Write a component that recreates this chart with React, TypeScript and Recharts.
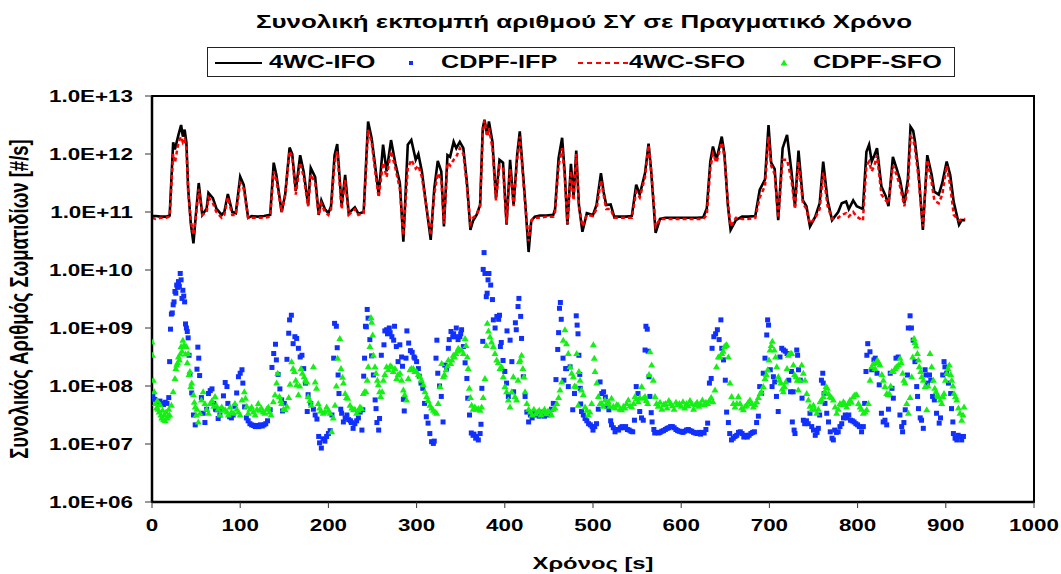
import { ComposedChart, Line, Scatter, XAxis, YAxis, Label, ReferenceArea } from 'recharts'

const FONT = '"Liberation Sans", Arial, sans-serif'
// all lettering is drawn wide, as in the exported chart
const STRETCH = 1.4

const X_TICKS = [0, 100, 200, 300, 400, 500, 600, 700, 800, 900, 1000]
const Y_TICKS = [1e6, 1e7, 1e8, 1e9, 1e10, 1e11, 1e12, 1e13]

// 4WC runs: time knots [s] and log10 of the particle rate [#/s]
const LINE_T = [
  0, 4, 10, 16, 20, 24, 26, 30, 33, 35, 37, 39, 41, 44, 47, 50, 53, 57, 62, 64, 69, 73, 79, 82, 86, 91, 95, 100, 104,
  109, 113, 120, 127, 134, 138, 141, 147, 151, 156, 159, 163, 168, 172, 177, 180, 185, 189, 192, 196, 200, 203, 207,
  210, 215, 219, 223, 230, 234, 240, 245, 249, 253, 257, 262, 266, 271, 276, 281, 285, 290, 294, 299, 302, 306, 311,
  316, 320, 324, 328, 331, 335, 338, 342, 345, 349, 353, 357, 361, 364, 368, 372, 375, 377, 380, 382, 386, 390, 394,
  398, 402, 406, 410, 414, 417, 423, 427, 430, 434, 440, 447, 455, 457, 461, 465, 468, 471, 475, 478, 481, 484, 488,
  493, 500, 504, 509, 512, 515, 520, 524, 530, 537, 544, 549, 553, 559, 563, 566, 571, 576, 582, 590, 600, 610, 618,
  625, 629, 633, 636, 640, 646, 649, 653, 656, 662, 669, 676, 684, 689, 695, 699, 702, 706, 710, 715, 720, 725, 729,
  733, 738, 742, 746, 752, 757, 761, 766, 771, 778, 782, 787, 790, 795, 799, 806, 810, 813, 816, 819, 822, 827, 832,
  835, 840, 844, 848, 853, 857, 860, 863, 865, 869, 874, 879, 884, 887, 892, 896, 901, 905, 909, 915, 918, 922,
]
const IFO_4WC = [
  10.93, 10.93, 10.92, 10.92, 10.94, 12.2, 12.08, 12.33, 12.5, 12.3, 12.42, 12.2, 11.4, 10.8, 10.46, 11.0, 11.5, 10.95,
  11.06, 11.33, 11.24, 11.06, 10.95, 11.0, 11.31, 11.0, 10.98, 11.61, 11.47, 10.9, 10.93, 10.92, 10.93, 10.95, 11.85,
  11.64, 11.0, 11.3, 12.11, 12.0, 11.36, 11.98, 11.69, 11.12, 11.76, 11.6, 10.95, 11.2, 11.05, 10.98, 11.1, 11.98,
  12.17, 11.1, 11.64, 10.98, 11.08, 10.97, 11.0, 12.56, 12.27, 11.8, 11.3, 12.16, 11.7, 12.24, 11.83, 11.5, 10.49,
  12.16, 12.24, 11.9, 12.0, 11.7, 11.1, 10.52, 11.4, 11.88, 11.7, 10.75, 11.98, 11.95, 12.21, 12.1, 12.21, 12.1, 11.52,
  10.69, 10.85, 10.95, 11.12, 12.44, 12.59, 12.33, 12.56, 12.21, 11.24, 11.9, 11.85, 10.78, 11.9, 11.12, 11.98, 12.39,
  11.2, 10.31, 10.85, 10.92, 10.94, 10.94, 10.95, 11.05, 11.93, 12.28, 11.66, 10.78, 11.83, 11.25, 12.06, 11.12,
  10.66, 10.98, 10.95, 11.12, 11.67, 11.35, 11.12, 11.13, 10.92, 10.92, 10.92, 10.93, 11.47, 11.3, 11.67, 12.18, 11.7,
  10.64, 10.88, 10.9, 10.9, 10.9, 10.9, 10.9, 10.91, 11.06, 11.87, 12.13, 11.9, 12.3, 12.0, 11.1, 10.69, 10.86, 10.92,
  10.92, 10.93, 11.38, 11.56, 12.5, 11.85, 11.74, 10.86, 12.1, 12.33, 11.7, 11.1, 12.06, 11.2, 11.1, 10.75, 10.92,
  11.15, 11.87, 11.2, 10.86, 11.0, 11.15, 11.18, 11.05, 11.2, 11.1, 11.05, 12.04, 12.16, 11.87, 11.98, 12.1, 11.44,
  11.27, 11.1, 11.95, 11.76, 11.56, 11.15, 11.56, 12.47, 12.4, 12.22, 11.7, 10.69, 11.98, 11.64, 11.35, 11.3, 11.5,
  11.87, 11.64, 11.17, 10.78, 10.86, 10.86,
]
const SFO_4WC = [
  10.9, 10.88, 10.9, 10.9, 10.92, 12.0, 11.85, 12.2, 12.3, 12.2, 12.25, 12.1, 11.35, 10.85, 10.6, 10.95, 11.4, 10.95,
  11.0, 11.25, 11.15, 11.0, 10.9, 10.95, 11.25, 10.95, 10.95, 11.5, 11.4, 10.9, 10.9, 10.9, 10.9, 10.92, 11.7, 11.55,
  11.0, 11.3, 12.05, 11.95, 11.3, 11.85, 11.6, 11.1, 11.65, 11.5, 10.95, 11.15, 11.0, 10.95, 11.05, 11.85, 12.05,
  11.05, 11.55, 10.95, 11.05, 10.95, 10.98, 12.42, 12.2, 11.7, 11.25, 11.85, 11.6, 12.05, 11.75, 11.4, 10.6, 11.75,
  11.9, 11.75, 11.8, 11.6, 11.1, 10.6, 11.3, 11.67, 11.55, 10.8, 11.85, 11.8, 11.9, 11.95, 12.1, 12.0, 11.45, 10.8,
  10.9, 10.95, 11.1, 12.35, 12.58, 12.3, 12.45, 12.1, 11.2, 11.8, 11.75, 10.8, 11.75, 11.1, 11.9, 12.3, 11.15, 10.5,
  10.85, 10.9, 10.9, 10.92, 10.92, 11.0, 11.8, 12.1, 11.6, 10.8, 11.7, 11.2, 12.0, 11.1, 10.75, 10.95, 10.93, 11.05,
  11.55, 11.3, 11.05, 11.05, 10.9, 10.9, 10.9, 10.9, 11.35, 11.25, 11.6, 12.15, 11.7, 10.75, 10.88, 10.88, 10.88,
  10.88, 10.88, 10.88, 10.88, 10.95, 11.75, 12.0, 11.85, 12.2, 11.95, 11.15, 10.75, 10.9, 10.88, 10.88, 10.9, 11.25,
  11.45, 12.3, 11.8, 11.65, 10.9, 11.9, 11.9, 11.55, 11.05, 11.87, 11.15, 11.05, 10.8, 10.9, 11.05, 11.68, 11.1, 10.88,
  10.9, 10.95, 10.98, 10.92, 11.0, 10.92, 10.85, 11.8, 11.87, 11.7, 11.8, 11.98, 11.3, 11.2, 11.15, 11.8, 11.65,
  11.45, 11.1, 11.4, 12.3, 12.25, 12.1, 11.6, 10.75, 11.9, 11.5, 11.2, 11.15, 11.3, 11.8, 11.45, 10.95, 10.85, 10.88,
  10.88,
]

// CDPF runs: [time s, log10 #/s]
const CDPF_IFP: [number, number][] = [
  [0, 7.87], [1, 7.82], [3, 7.77], [5, 7.72], [7, 7.7], [9, 7.74], [11, 7.7], [13, 7.68], [15, 7.72], [17, 7.7],
  [19, 7.8], [20, 8.42], [21, 8.98], [22, 9.24], [23, 9.26], [24, 9.4], [25, 9.45], [26, 9.63], [27, 9.6], [28, 9.74],
  [29, 9.7], [30, 9.8], [31, 9.72], [32, 9.94], [33, 9.83], [34, 9.51], [35, 9.65], [36, 9.55], [37, 9.45],
  [38, 9.07], [39, 9.0], [40, 8.94], [41, 8.83], [42, 8.53], [43, 8.2], [45, 7.88], [47, 7.5], [49, 7.33], [51, 8.29],
  [52, 8.67], [53, 8.48], [54, 8.18], [56, 7.8], [58, 7.53], [60, 7.37], [62, 7.6], [64, 7.87], [66, 7.92],
  [68, 7.95], [70, 7.7], [72, 7.6], [73, 7.59], [75, 7.44], [77, 7.5], [79, 7.6], [81, 7.83], [83, 8.06], [85, 7.99],
  [86, 7.7], [88, 7.47], [90, 7.45], [92, 7.5], [94, 7.65], [96, 7.88], [98, 8.16], [100, 8.22], [102, 8.28],
  [103, 8.05], [105, 7.64], [107, 7.45], [109, 7.4], [111, 7.35], [113, 7.33], [115, 7.32], [117, 7.3], [119, 7.32],
  [121, 7.3], [123, 7.33], [125, 7.31], [127, 7.33], [129, 7.35], [131, 7.4], [134, 7.59], [136, 8.32], [138, 8.56],
  [140, 8.72], [141, 8.45], [143, 8.2], [145, 7.95], [147, 7.76], [148, 7.57], [150, 7.7], [153, 8.46], [155, 8.91],
  [156, 9.14], [158, 9.22], [160, 8.73], [162, 8.85], [164, 8.82], [166, 8.65], [168, 8.5], [170, 8.53], [172, 8.3],
  [174, 8.05], [176, 7.56], [177, 7.85], [180, 7.7], [183, 7.6], [185, 7.5], [187, 7.43], [189, 7.13], [190, 7.02],
  [192, 6.93], [194, 7.09], [196, 7.05], [198, 7.13], [200, 7.18], [202, 7.23], [204, 7.5], [206, 8.48], [207, 9.08],
  [209, 9.03], [210, 8.66], [211, 8.19], [212, 7.87], [214, 7.6], [215, 7.53], [217, 7.38], [219, 7.45], [221, 7.5],
  [223, 7.42], [225, 7.4], [226, 7.37], [228, 7.27], [230, 7.35], [232, 7.4], [234, 7.45], [236, 7.55], [238, 7.24],
  [239, 7.59], [240, 8.17], [241, 8.48], [242, 9.03], [243, 9.02], [244, 9.32], [245, 9.17], [247, 8.8], [249, 8.52],
  [251, 8.19], [253, 7.76], [254, 7.61], [255, 7.37], [257, 7.24], [258, 7.44], [260, 8.53], [263, 8.71],
  [264, 8.95], [266, 8.97], [267, 8.9], [269, 9.0], [270, 8.92], [272, 8.85], [274, 8.79], [275, 9.03], [277, 8.68],
  [279, 8.42], [281, 8.71], [283, 8.5], [284, 8.34], [285, 7.77], [286, 7.57], [288, 8.48], [289, 8.95], [291, 8.74],
  [293, 8.61], [295, 8.58], [297, 8.5], [298, 8.48], [300, 8.42], [302, 8.3], [303, 8.17], [305, 8.05], [307, 7.96],
  [309, 7.7], [311, 7.47], [313, 7.36], [315, 7.18], [317, 7.04], [319, 7.01], [320, 7.05], [322, 8.48], [323, 8.79],
  [324, 8.22], [326, 8.0], [328, 7.82], [330, 7.38], [332, 8.36], [334, 8.3], [336, 8.65], [337, 8.8], [339, 8.94],
  [341, 8.85], [342, 8.9], [344, 8.85], [345, 9.0], [347, 8.8], [349, 8.85], [350, 8.9], [351, 8.97], [353, 8.68],
  [355, 8.4], [357, 8.13], [358, 7.79], [360, 7.5], [362, 7.19], [364, 7.15], [365, 7.17], [367, 7.1], [368, 7.13],
  [370, 7.07], [372, 7.18], [373, 7.34], [374, 7.96], [375, 8.77], [375.5, 10.01], [376.5, 10.3], [377.5, 9.94],
  [379, 9.54], [380, 9.6], [381, 9.83], [382, 9.94], [384, 9.74], [386, 9.49], [387, 9.14], [389, 9.0], [391, 9.2],
  [393, 9.15], [394, 9.22], [395, 8.68], [396, 8.75], [398, 8.44], [400, 8.25], [402, 8.05], [402.5, 8.95],
  [404, 7.82], [406, 8.79], [408, 8.42], [410, 7.9], [412, 9.09], [413, 8.97], [415, 9.37], [416, 9.51], [418, 9.2],
  [419, 8.82], [421, 8.16], [423, 7.82], [425, 7.55], [427, 7.38], [429, 7.5], [431, 7.45], [433, 7.55], [435, 7.5],
  [437, 7.52], [439, 7.48], [441, 7.55], [443, 7.5], [445, 7.48], [447, 7.52], [449, 7.5], [451, 7.55], [453, 7.6],
  [455, 7.7], [458, 8.11], [460, 8.63], [461, 8.92], [462, 9.34], [463, 9.44], [464, 9.15], [466, 8.48], [467, 8.1],
  [469, 8.3], [470, 8.3], [472, 7.99], [474, 8.33], [477, 7.59], [479, 7.87], [481, 9.21], [482, 9.05], [483, 8.9],
  [484, 8.53], [485, 8.2], [485.5, 7.96], [486, 7.69], [487, 7.56], [489, 7.5], [491, 7.44], [493, 7.4], [495, 7.35],
  [497, 7.33], [499, 7.3], [500, 7.24], [502, 7.3], [504, 7.35], [506, 7.6], [508, 8.07], [510, 7.87], [512, 7.9],
  [514, 7.81], [516, 7.65], [518, 7.59], [520, 7.4], [521, 7.33], [523, 7.28], [525, 7.21], [527, 7.25], [529, 7.24],
  [531, 7.28], [533, 7.3], [535, 7.28], [537, 7.3], [539, 7.25], [541, 7.24], [543, 7.22], [545, 7.21], [547, 7.41],
  [549, 7.99], [551, 7.87], [553, 7.56], [555, 7.45], [557, 7.41], [559, 8.62], [560, 9.03], [561.5, 8.98],
  [562.5, 8.6], [563.5, 8.16], [564.5, 7.82], [566, 7.54], [567, 7.38], [569, 7.25], [570, 7.19], [572, 7.2],
  [574, 7.19], [576, 7.2], [578, 7.22], [580, 7.23], [582, 7.25], [584, 7.27], [586, 7.28], [588, 7.3], [590, 7.3],
  [592, 7.28], [594, 7.25], [596, 7.23], [598, 7.22], [600, 7.21], [602, 7.2], [604, 7.22], [606, 7.24], [608, 7.25],
  [610, 7.23], [612, 7.22], [614, 7.2], [616, 7.19], [618, 7.18], [620, 7.2], [622, 7.17], [624, 7.2], [626, 7.19],
  [628, 7.25], [630, 7.36], [632, 8.05], [634, 8.13], [635, 8.65], [637, 8.85], [639, 8.9], [641, 8.97], [643, 8.8],
  [645, 9.14], [646, 8.65], [648, 8.45], [650, 8.1], [651.5, 7.55], [653.5, 7.37], [655, 7.18], [657, 7.07],
  [659, 7.1], [661, 7.13], [663, 7.15], [665, 7.2], [667, 7.21], [669, 7.18], [671, 7.12], [673, 7.15], [675, 7.12],
  [677, 7.15], [679, 7.18], [681, 7.2], [683, 7.21], [685.5, 7.37], [687.5, 7.48], [689, 7.99], [691, 7.87],
  [693, 8.22], [695, 8.48], [697, 8.88], [698, 9.14], [699, 9.05], [701, 8.28], [703, 7.99], [704.5, 8.16],
  [706, 8.07], [708, 7.82], [710, 7.56], [712, 8.5], [714, 8.65], [716, 8.62], [718, 8.6], [720, 8.56], [722, 8.1],
  [724, 7.9], [725, 8.25], [726, 7.38], [727, 7.9], [728, 7.24], [729, 7.18], [731, 8.62], [732, 8.53], [733, 8.28],
  [735, 8.1], [737, 7.79], [738.5, 7.41], [740, 7.35], [742, 7.4], [744, 7.35], [746, 7.53], [748, 7.3], [750, 7.24],
  [752, 7.15], [754, 7.2], [755.5, 7.27], [757, 7.5], [759, 8.1], [760.5, 8.22], [761, 8.05], [762, 7.87], [763, 7.7],
  [765, 7.53], [767, 7.38], [769, 7.21], [771, 7.1], [772.5, 7.07], [774, 7.24], [776, 7.2], [778, 7.21], [780, 7.3],
  [782, 7.35], [784, 7.45], [786, 7.5], [788, 7.45], [790, 7.5], [792, 7.41], [794, 7.4], [796, 7.38], [798, 7.35],
  [800, 7.33], [802, 7.3], [804.5, 7.21], [806.5, 7.3], [808, 7.7], [809.5, 8.25], [810.5, 8.53], [811.5, 8.73],
  [814, 8.59], [816, 8.28], [818.5, 8.45], [820, 8.48], [822, 8.22], [824.5, 8.02], [827, 7.53], [829, 7.38],
  [831, 7.41], [833, 7.33], [835, 7.6], [837, 8.22], [839, 7.96], [840.5, 7.79], [843.5, 8.48], [846, 8.5], [848, 7.5],
  [850, 7.3], [851, 7.21], [852.5, 7.37], [854, 7.59], [856.5, 8.19], [857.5, 9.0], [859.5, 9.21], [861, 9.0],
  [863, 8.79], [865, 8.42], [867, 7.99], [868, 7.82], [869, 7.61], [871, 7.45], [872.5, 7.41], [874.5, 7.27],
  [876.5, 8.28], [877.5, 8.19], [879, 8.05], [881.5, 8.19], [883, 8.1], [885, 7.82], [887, 7.76], [889.5, 7.53],
  [892.5, 7.36], [894, 7.45], [896.5, 8.19], [898, 8.42], [899, 8.33], [901, 8.22], [903, 8.05], [905.5, 7.87],
  [906.5, 7.61], [908, 7.38], [908.6, 7.18], [910.5, 7.1], [912.5, 7.07], [914, 7.15], [916, 7.13], [918, 7.07],
  [920, 7.13],
]
const CDPF_SFO: [number, number][] = [
  [0, 8.76], [0.5, 8.53], [1.5, 8.1], [2.6, 7.9], [4, 7.7], [5, 7.62], [6, 7.75], [7, 7.6], [8, 7.55], [9, 7.68],
  [10, 7.5], [11, 7.45], [12, 7.58], [13, 7.42], [14, 7.5], [15, 7.4], [16, 7.55], [17, 7.45], [18, 7.48], [19, 7.6],
  [20, 7.5], [22, 7.67], [24, 7.9], [26, 8.13], [27, 8.3], [28, 8.36], [29, 8.4], [30, 8.5], [31, 8.45], [32, 8.55],
  [33, 8.68], [34, 8.6], [35, 8.79], [36, 8.7], [37, 8.7], [38, 8.55], [39, 8.68], [40, 8.4], [41, 8.56], [42, 8.2],
  [43, 8.25], [44, 7.99], [45, 8.05], [47, 7.85], [48, 7.72], [49, 7.64], [50, 7.5], [51, 7.6], [52.5, 7.38],
  [54.5, 7.53], [56, 7.76], [58, 7.9], [60, 7.7], [62, 7.6], [64, 7.53], [66, 7.7], [68, 7.75], [70, 7.65],
  [71.5, 7.82], [73, 7.67], [75, 7.6], [77, 7.5], [79, 7.64], [81, 7.58], [83, 7.59], [85, 7.55], [86.5, 7.5],
  [88.5, 7.64], [90, 7.55], [92, 7.53], [94, 7.7], [96, 7.6], [98, 7.55], [100, 7.5], [102, 7.76], [104.7, 7.9],
  [106, 7.79], [107.5, 7.65], [109, 7.53], [111, 7.6], [113, 7.64], [115, 7.55], [117, 7.5], [119, 7.6], [120.5, 7.7],
  [122, 7.58], [124, 7.62], [126, 7.55], [128, 7.53], [130, 7.6], [132, 7.64], [133.5, 7.55], [135, 7.5],
  [137.5, 7.73], [139.5, 7.85], [141.3, 8.05], [142.5, 8.22], [144.5, 7.82], [146, 7.75], [147, 7.7], [149, 7.6],
  [151, 7.59], [153, 7.65], [155, 7.8], [156.5, 8.03], [158.3, 8.42], [160, 8.3], [161.5, 8.25], [163, 8.1],
  [164, 8.02], [166, 7.85], [167.5, 8.0], [169, 8.3], [170.5, 8.22], [172.5, 8.16], [174, 8.1], [175.5, 8.07],
  [177, 7.82], [179, 7.75], [180.5, 7.67], [183, 8.33], [185, 8.07], [186.5, 7.96], [188.5, 7.7], [190, 7.62],
  [191.5, 7.57], [194, 7.53], [196, 7.55], [198, 7.64], [200, 7.58], [202, 7.53], [203.7, 7.21], [205.5, 7.45],
  [207.5, 7.67], [209, 8.0], [210.5, 8.48], [213, 8.82], [214.3, 8.3], [216, 8.15], [217, 8.05], [219, 7.87],
  [220.5, 7.8], [222, 7.79], [224.5, 7.67], [226.5, 7.62], [228.3, 7.59], [230, 7.6], [232, 7.53], [234, 7.58],
  [235.8, 7.64], [237.7, 7.61], [239.6, 7.87], [241, 7.9], [242.6, 7.9], [244, 8.1], [245.2, 8.33], [247, 8.68],
  [248.3, 9.18], [249, 9.1], [250.2, 8.88], [251, 8.53], [252.8, 8.33], [254, 8.22], [255.5, 8.1], [256.6, 8.02],
  [258, 7.9], [259.2, 7.82], [261, 7.9], [262.3, 8.1], [264, 8.2], [266, 8.33], [268, 8.28], [270, 8.35],
  [271.7, 8.33], [273.6, 8.25], [275.5, 8.3], [277.4, 8.13], [279, 8.2], [281.2, 8.22], [283, 8.1], [285, 7.93],
  [286.5, 7.85], [288.7, 7.76], [290.6, 8.13], [292.5, 8.28], [294, 8.3], [296.3, 8.3], [298, 8.25], [300, 8.25],
  [302, 8.2], [303.8, 8.16], [305.5, 8.1], [307.6, 8.02], [309.5, 7.9], [311.4, 7.82], [313, 7.75], [315.2, 7.67],
  [317, 7.62], [319, 7.58], [321, 7.55], [322.7, 7.53], [324.5, 7.7], [326.5, 7.99], [328.4, 8.39], [330.3, 8.16],
  [331.5, 8.2], [333.3, 8.28], [335, 8.35], [336, 8.45], [338.6, 8.39], [340, 8.45], [341.6, 8.53], [343, 8.5],
  [344.6, 8.56], [346, 8.6], [347.3, 8.65], [349, 8.62], [351, 8.62], [353, 8.56], [354.9, 8.82], [356, 8.7],
  [357.5, 8.5], [358.5, 8.3], [359.8, 7.96], [361, 7.8], [362.4, 7.67], [364, 7.6], [366, 7.64], [368, 7.6],
  [370, 7.61], [372, 7.58], [373.7, 7.64], [375.5, 7.8], [377.5, 8.13], [379, 8.7], [380.2, 9.08], [381.5, 8.95],
  [383.2, 8.85], [385, 8.76], [387, 8.68], [388.9, 8.56], [390.8, 8.45], [392.5, 8.4], [394.5, 8.3], [396.4, 8.33],
  [398.3, 8.16], [400.2, 7.99], [402, 7.9], [404, 7.76], [405.9, 7.64], [407.8, 7.9], [409.7, 8.16], [411.5, 7.82],
  [413.4, 7.76], [415, 8.1], [416.4, 8.42], [417.5, 8.45], [419, 8.53], [420.5, 8.3], [421.7, 8.16], [423, 7.9],
  [425, 7.7], [427, 7.6], [429, 7.55], [431, 7.5], [433, 7.6], [435, 7.52], [437, 7.55], [439, 7.58], [441, 7.5],
  [443, 7.55], [445, 7.6], [447, 7.52], [449, 7.57], [451, 7.55], [453, 7.5], [455, 7.6], [457, 7.62], [459, 7.7],
  [461, 7.8], [462.6, 7.93], [464.5, 8.07], [466.3, 8.79], [468.2, 8.97], [470, 8.73], [472, 8.56], [474, 8.33],
  [475.8, 8.22], [477.7, 8.16], [479, 8.0], [480.7, 7.99], [481.5, 8.56], [483.3, 7.67], [484, 8.25], [485.3, 8.1],
  [487, 7.93], [489, 7.85], [491, 7.64], [493, 7.58], [494.7, 7.5], [496.5, 7.55], [498.5, 7.7], [500.4, 8.71],
  [501.5, 8.48], [502.3, 8.25], [504.2, 8.05], [506, 7.82], [508, 7.7], [509.8, 7.7], [511.5, 7.65], [513.6, 7.76],
  [515.5, 7.7], [517.4, 7.73], [519, 7.65], [521, 7.79], [523, 7.65], [525, 7.62], [527, 7.68], [528.7, 7.67],
  [530.5, 7.6], [532.5, 7.59], [534.5, 7.65], [536.3, 7.62], [538, 7.7], [540, 7.76], [542, 7.66], [544, 7.64],
  [546, 7.7], [547.6, 7.82], [549.5, 7.78], [551.4, 7.73], [553, 7.8], [555.2, 7.99], [557, 7.79], [559, 7.82],
  [560.5, 7.75], [562, 7.7], [563.5, 8.2], [564.6, 8.59], [566.5, 8.36], [568.4, 8.1], [570.3, 7.82], [572, 7.7],
  [574, 7.65], [576, 7.72], [578, 7.6], [580, 7.68], [582, 7.7], [584, 7.62], [586, 7.75], [588, 7.7], [590, 7.66],
  [592, 7.6], [594, 7.72], [596, 7.68], [598, 7.7], [600, 7.65], [602, 7.73], [604, 7.62], [606, 7.7], [608, 7.66],
  [610, 7.75], [612, 7.7], [614, 7.6], [616, 7.68], [618, 7.72], [620, 7.65], [622, 7.7], [624, 7.76], [626, 7.68],
  [628, 7.72], [630, 7.7], [632, 7.75], [634, 7.8], [636, 7.73], [638.3, 7.93], [640, 8.33], [642, 8.5], [644, 8.5],
  [646, 8.56], [647.5, 8.6], [649, 8.68], [650.5, 8.7], [651.6, 8.71], [653.5, 8.5], [655.3, 8.05], [657.2, 7.82],
  [659, 7.7], [661, 7.64], [663, 7.7], [664.8, 7.82], [666.7, 7.7], [668.5, 7.62], [670.5, 7.59], [672.5, 7.65],
  [674.2, 7.67], [676, 7.72], [678, 7.76], [680, 7.7], [681.8, 7.64], [683.5, 7.68], [685.6, 7.73], [687.5, 7.8],
  [689.4, 7.87], [691, 7.9], [693, 7.99], [695, 8.13], [696.5, 8.2], [698, 8.28], [699.5, 8.45], [700.7, 8.62],
  [702, 8.7], [703.3, 8.77], [705.6, 8.62], [707, 8.5], [708.3, 8.33], [710.1, 8.16], [711.5, 8.1], [713, 8.05],
  [714.5, 7.95], [715.8, 7.9], [717, 7.99], [718.5, 8.07], [720, 8.3], [721.5, 8.53], [723.5, 8.56], [725.3, 8.56],
  [727.2, 8.36], [728.5, 8.2], [730, 8.16], [731.5, 8.1], [732.8, 7.93], [734.5, 8.1], [736.6, 8.36], [738.5, 8.22],
  [740.4, 8.1], [742.3, 7.87], [744.2, 7.76], [746, 7.65], [748, 7.59], [749.9, 7.67], [751.5, 7.6], [753.6, 7.53],
  [755.5, 7.6], [757.4, 7.73], [759, 7.76], [761.2, 7.82], [762.5, 7.9], [764.2, 7.99], [765.7, 7.96], [767, 7.87],
  [768.8, 7.82], [770.5, 7.8], [772.5, 7.76], [774.5, 7.64], [776.3, 7.53], [778, 7.6], [780, 7.7], [782, 7.68],
  [783.9, 7.73], [785.5, 7.7], [787.6, 7.64], [789.5, 7.7], [791.4, 7.76], [793, 7.72], [795.2, 7.82], [797, 7.85],
  [799, 7.85], [801, 7.7], [802.8, 7.64], [804.5, 7.6], [806.5, 7.53], [808.5, 7.55], [810.3, 7.59], [812.2, 7.7],
  [814.1, 8.1], [816, 8.33], [817.9, 8.39], [819.8, 8.3], [821, 8.4], [822.4, 8.45], [824, 8.4], [825.4, 8.36],
  [827.5, 8.2], [829.2, 8.1], [831, 7.99], [833, 7.87], [834.5, 7.85], [836, 7.87], [837.5, 8.0], [838.7, 8.25],
  [840.5, 8.25], [842.4, 8.3], [844, 8.33], [846.2, 8.36], [848.1, 8.48], [849.5, 8.4], [851.1, 8.22], [852.5, 8.1],
  [853.8, 8.05], [855.7, 7.7], [857.6, 7.53], [859.5, 7.8], [861.3, 8.16], [862.5, 8.5], [864, 8.82], [865, 8.75],
  [866.3, 8.69], [867.8, 8.56], [869, 8.45], [870, 8.33], [871.5, 8.25], [872.7, 8.16], [874.5, 8.1], [876.5, 7.99],
  [878.4, 7.59], [880, 8.0], [882.1, 8.56], [884, 8.33], [885.9, 8.1], [887.5, 7.96], [888.9, 7.9], [890.5, 7.85],
  [891.6, 7.82], [893.5, 7.76], [895.4, 7.7], [896.8, 7.82], [898, 7.87], [899.5, 8.1], [901, 8.22], [902.5, 8.3],
  [904, 8.36], [905.5, 8.2], [906.7, 8.1], [908, 8.0], [909.3, 7.87], [911, 7.82], [912.4, 7.76], [914.3, 7.62],
  [916.1, 7.53], [918, 7.41], [919.5, 7.5], [920.7, 7.64],
]

type Pt = { t: number; v: number }
const fromLog = (ts: number[], logs: number[]): Pt[] => ts.map((t, i) => ({ t, v: Math.pow(10, logs[i]) }))
const fromPairs = (pairs: [number, number][]): Pt[] => pairs.map(([t, l]) => ({ t, v: Math.pow(10, l) }))

const ifoLine = fromLog(LINE_T, IFO_4WC)
const sfoLine = fromLog(LINE_T, SFO_4WC)
const ifpPts = fromPairs(CDPF_IFP)
const sfoPts = fromPairs(CDPF_SFO)

const BLUE = '#1030ff'
const GREEN = '#14f014'
const RED = '#ff0000'

const expLabel = (v: number) => {
  const e = Math.round(Math.log10(v))
  return `1.0E+${String(e).padStart(2, '0')}`
}

function Square(p: any) {
  if (p.cx == null || p.cy == null) return <g />
  return <rect x={p.cx - 2.5} y={p.cy - 2.5} width={5} height={5} fill={BLUE} />
}

function Triangle(p: any) {
  if (p.cx == null || p.cy == null) return <g />
  const { cx, cy } = p
  return <path d={`M${cx},${cy - 3.5}L${cx + 3.5},${cy + 2.5}L${cx - 3.5},${cy + 2.5}Z`} fill={GREEN} />
}

const textStyle = { fontFamily: FONT, fontWeight: 700, fill: '#000' }

function XTick({ x, y, payload }: any) {
  return (
    <text transform={`translate(${x},${y}) scale(${STRETCH},1)`} textAnchor="middle" dy="0.71em"
      style={{ ...textStyle, fontSize: 16 }}>
      {payload.value}
    </text>
  )
}

function YTick({ x, y, payload }: any) {
  return (
    <text transform={`translate(${x},${y}) scale(${STRETCH},1)`} textAnchor="end" dy="0.36em"
      style={{ ...textStyle, fontSize: 16 }}>
      {expLabel(payload.value)}
    </text>
  )
}

function YTitle({ viewBox }: any) {
  const cy = viewBox.y + viewBox.height / 2
  return (
    <text transform={`translate(19,${cy}) scale(${STRETCH},1) rotate(-90)`} textAnchor="middle" dy="0.36em"
      style={{ ...textStyle, fontSize: 18.5 }}>
      Συνολικός Αριθμός Σωματιδίων [#/s]
    </text>
  )
}

function XTitle({ viewBox }: any) {
  const cx = viewBox.x + viewBox.width / 2
  return (
    <text transform={`translate(${cx},563) scale(${STRETCH},1)`} textAnchor="middle" dy="0.36em"
      style={{ ...textStyle, fontSize: 17 }}>
      Χρόνος [s]
    </text>
  )
}

function LegendBox() {
  const text: React.CSSProperties = {
    position: 'absolute', top: 4, fontSize: 18, fontWeight: 700, lineHeight: '20px',
    transform: `scaleX(${STRETCH})`, transformOrigin: 'left center', whiteSpace: 'nowrap',
  }
  return (
    <div
      style={{
        position: 'absolute', left: 207, top: 47, width: 746, height: 28,
        border: '1.5px solid #222', background: '#fff', fontFamily: FONT,
      }}
    >
      <div style={{ position: 'absolute', left: 7, top: 14, width: 47, height: 2, background: '#000' }} />
      <span style={{ ...text, left: 61 }}>4WC-IFO</span>
      <div style={{ position: 'absolute', left: 201, top: 13, width: 4, height: 4, background: BLUE }} />
      <span style={{ ...text, left: 233 }}>CDPF-IFP</span>
      <svg style={{ position: 'absolute', left: 370, top: 13 }} width={50} height={4}>
        <line x1={0} y1={2} x2={50} y2={2} stroke={RED} strokeWidth={2} strokeDasharray="5 4" />
      </svg>
      <span style={{ ...text, left: 421 }}>4WC-SFO</span>
      <svg style={{ position: 'absolute', left: 572, top: 11 }} width={8} height={8}>
        <path d="M4,0.5L7.5,6.5L0.5,6.5Z" fill={GREEN} />
      </svg>
      <span style={{ ...text, left: 605 }}>CDPF-SFO</span>
    </div>
  )
}

export default function App() {
  return (
    <div style={{ position: 'absolute', left: 0, top: 0, width: 1061, height: 574, background: '#fff' }}>
      <div
        style={{
          position: 'absolute', left: 0, top: 10, width: 1168, textAlign: 'center', whiteSpace: 'nowrap',
          fontFamily: FONT, fontSize: 18.5, fontWeight: 700, lineHeight: '24px', transform: `scaleX(${STRETCH})`,
        }}
      >
        Συνολική εκπομπή αριθμού ΣΥ σε Πραγματικό Χρόνο
      </div>
      <ComposedChart width={1061} height={574} margin={{ top: 96, right: 27, left: 0, bottom: 42 }}>
        <XAxis
          dataKey="t" type="number" domain={[0, 1000]} ticks={X_TICKS} allowDataOverflow
          height={30} tickSize={6} tickMargin={12} tick={<XTick />}
          axisLine={{ stroke: '#000', strokeWidth: 2.5 }} tickLine={{ stroke: '#333' }}
        >
          <Label content={<XTitle />} />
        </XAxis>
        <YAxis
          type="number" scale="log" domain={[1e6, 1e13]} ticks={Y_TICKS} allowDataOverflow
          width={152} tickSize={7} tickMargin={12} tick={<YTick />}
          axisLine={{ stroke: '#000', strokeWidth: 2.5 }} tickLine={{ stroke: '#333' }}
        >
          <Label content={<YTitle />} />
        </YAxis>
        <ReferenceArea x1={0} x2={1000} y1={1e6} y2={1e13} fill="none" stroke="#000" strokeWidth={2} />
        <Line data={ifoLine} dataKey="v" type="linear" stroke="#000" strokeWidth={2.6} dot={false}
          isAnimationActive={false} />
        <Scatter data={ifpPts} dataKey="v" shape={Square} isAnimationActive={false} />
        <Line data={sfoLine} dataKey="v" type="linear" stroke={RED} strokeWidth={2.5} strokeDasharray="4 3"
          dot={false} isAnimationActive={false} />
        <Scatter data={sfoPts} dataKey="v" shape={Triangle} isAnimationActive={false} />
      </ComposedChart>
      <LegendBox />
    </div>
  )
}
